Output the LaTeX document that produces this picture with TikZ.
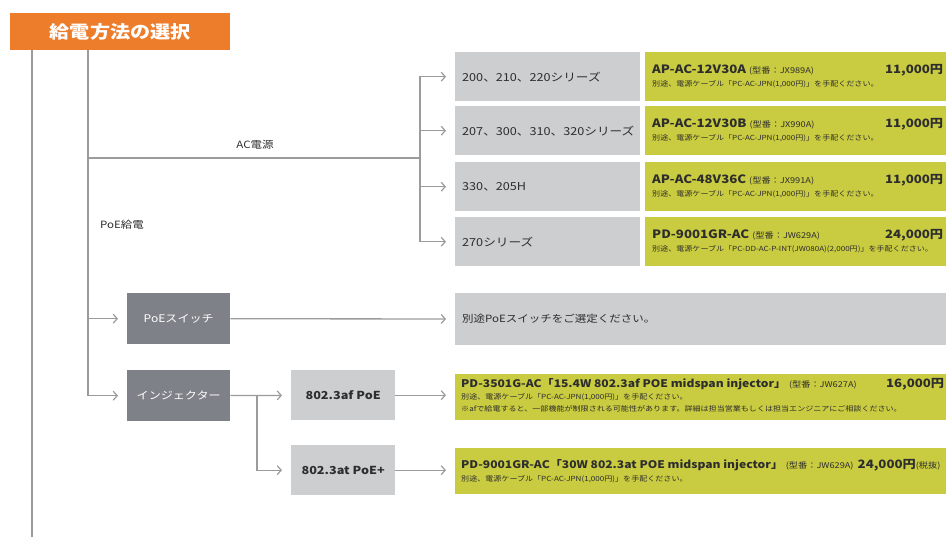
\documentclass[tikz,border=0pt]{standalone}
\usepackage{fontspec}
\setmainfont{Noto Sans CJK JP}[FakeStretch=1.15]
\usetikzlibrary{arrows.meta}
\definecolor{hdrorange}{RGB}{238,125,43}
\definecolor{darkbox}{RGB}{126,129,135}
\definecolor{lightbox}{RGB}{205,206,207}
\definecolor{yellowbox}{RGB}{201,203,64}
\definecolor{linegray}{RGB}{155,155,155}
\definecolor{txt}{RGB}{45,45,45}
\newcommand{\fs}[1]{\fontsize{#1}{#1}\selectfont}
\begin{document}
\begin{tikzpicture}[x=1pt,y=-1pt,
  boxbase/.style={inner sep=0pt, anchor=north west, draw=none},
  hdrbox/.style={boxbase, fill=hdrorange, minimum width=220pt, minimum height=37pt},
  darkb/.style={boxbase, fill=darkbox, minimum width=103pt, minimum height=51pt, text=white, font=\fs{10.5}},
  lightb/.style={boxbase, fill=lightbox, minimum width=104pt, minimum height=50pt, text=txt, font=\bfseries\fs{11}},
  greyb/.style={boxbase, fill=lightbox, minimum width=185pt, minimum height=49pt},
  yelb/.style={boxbase, fill=yellowbox},
  lbl/.style={inner sep=0pt, anchor=west, text=txt},
  ln/.style={draw=linegray, line width=1.3pt},
  arr/.style={ln, -{Straight Barb[length=4pt,width=9pt,line width=1.2pt]}, shorten >=9pt},
]
\useasboundingbox (0,0) rectangle (946,541);
% header
\node[hdrbox] (hdr) at (10,13) {};
\node[text=white, font=\bfseries\fs{17.5}, inner sep=0pt] (hdrt) at (hdr.center) {給電方法の選択};
% AC source boxes
\node[greyb] (g1) at (455,52) {};
\node[greyb] (g2) at (455,106) {};
\node[greyb] (g3) at (455,162) {};
\node[greyb] (g4) at (455,217) {};
\node[lbl, font=\fs{11}] (g1t) at ([xshift=7pt]g1.west) {200、210、220シリーズ};
\node[lbl, font=\fs{11}] (g2t) at ([xshift=7pt]g2.west) {207、300、310、320シリーズ};
\node[lbl, font=\fs{11}] (g3t) at ([xshift=7pt]g3.west) {330、205H};
\node[lbl, font=\fs{11}] (g4t) at ([xshift=7pt]g4.west) {270シリーズ};
% yellow product boxes (AC)
\node[yelb, minimum width=301pt, minimum height=49pt] (y1) at (645,52) {};
\node[yelb, minimum width=301pt, minimum height=49pt] (y2) at (645,106) {};
\node[yelb, minimum width=301pt, minimum height=49pt] (y3) at (645,162) {};
\node[yelb, minimum width=301pt, minimum height=49pt] (y4) at (645,217) {};
\foreach \n/\m/\t/\p/\c in {
  y1/AP-AC-12V30A/JX989A/{11,000円}/{PC-AC-JPN(1,000円)},
  y2/AP-AC-12V30B/JX990A/{11,000円}/{PC-AC-JPN(1,000円)},
  y3/AP-AC-48V36C/JX991A/{11,000円}/{PC-AC-JPN(1,000円)},
  y4/PD-9001GR-AC/JW629A/{24,000円}/{PC-DD-AC-P-INT(JW080A)(2,000円)}}{
  \node[lbl, font=\bfseries\fs{11.5}, anchor=base west] (\n m) at ([xshift=7pt,yshift=-21pt]\n.north west) {\m\ \fs{8}\mdseries(型番：\t)};
  \node[inner sep=0pt, anchor=base east, text=txt, font=\bfseries\fs{11.5}] (\n p) at ([xshift=-3pt,yshift=-21pt]\n.north east) {\p};
  \node[lbl, font=\fs{7}, anchor=base west] (\n n) at ([xshift=7pt,yshift=-34pt]\n.north west) {別途、電源ケーブル「\c」を手配ください。};
}
% PoE switch row
\node[darkb] (psw) at (127,293) {PoEスイッチ};
\node[boxbase, fill=lightbox, minimum width=491pt, minimum height=52pt] (sel) at (455,293) {};
\node[lbl, font=\fs{10}] (selt) at ([xshift=7pt]sel.west) {別途PoEスイッチをご選定ください。};
% injector row
\node[darkb] (inj) at (127,370) {インジェクター};
\node[lightb] (af) at (291,370) {802.3af PoE};
\node[lightb] (at) at (291,445) {802.3at PoE+};
\node[yelb, minimum width=491pt, minimum height=46pt] (yaf) at (455,374) {};
\node[yelb, minimum width=491pt, minimum height=46pt] (yat) at (455,448) {};
\node[lbl, font=\bfseries\fs{10.5}, anchor=base west] (yafm) at ([xshift=6pt,yshift=-13pt]yaf.north west) {PD-3501G-AC「15.4W 802.3af POE midspan injector」\ \fs{8}\mdseries(型番：JW627A)};
\node[inner sep=0pt, anchor=base east, text=txt, font=\bfseries\fs{11.5}] (yafp) at ([xshift=-2pt,yshift=-13pt]yaf.north east) {16,000円};
\node[lbl, font=\fs{7}, anchor=base west] (yafn1) at ([xshift=6pt,yshift=-25pt]yaf.north west) {別途、電源ケーブル「PC-AC-JPN(1,000円)」を手配ください。};
\node[lbl, font=\fs{7}, anchor=base west] (yafn2) at ([xshift=6pt,yshift=-37pt]yaf.north west) {※afで給電すると、一部機能が制限される可能性があります。詳細は担当営業もしくは担当エンジニアにご相談ください。};
\node[lbl, font=\bfseries\fs{10.5}, anchor=base west] (yatm) at ([xshift=6pt,yshift=-20pt]yat.north west) {PD-9001GR-AC「30W 802.3at POE midspan injector」\ \fs{8}\mdseries(型番：JW629A)\ \ \fs{11.5}\bfseries 24,000円\fs{8}\mdseries(税抜)};
\node[lbl, font=\fs{7}, anchor=base west] (yatn) at ([xshift=6pt,yshift=-33pt]yat.north west) {別途、電源ケーブル「PC-AC-JPN(1,000円)」を手配ください。};
% labels
\node[inner sep=0pt, text=txt, font=\fs{10}] (aclbl) at (255,145) {AC電源};
\node[lbl, font=\fs{10}] (poelbl) at (100,225) {PoE給電};
% connectors
\coordinate (v1) at (32,50);
\coordinate (v1end) at (32,537);
\coordinate (v2) at (88,50);
\coordinate (acj) at (420,158);
\coordinate (ij) at (257,395);
\draw[ln] (v1) -- (v1end);
\draw[ln] (v2) |- (acj);
\foreach \b in {g1,g2,g3,g4} \draw[arr] (acj) |- (\b);
\draw[arr] (v2) |- (psw);
\draw[arr] (v2) |- (inj);
\draw[arr] (psw) -- (sel);
\draw[arr] (inj) -- (af);
\draw[arr] (ij) |- (at);
\draw[arr] (af) -- (yaf.west |- af.east);
\draw[arr] (at) -- (yat.west |- at.east);
\end{tikzpicture}
\end{document}
